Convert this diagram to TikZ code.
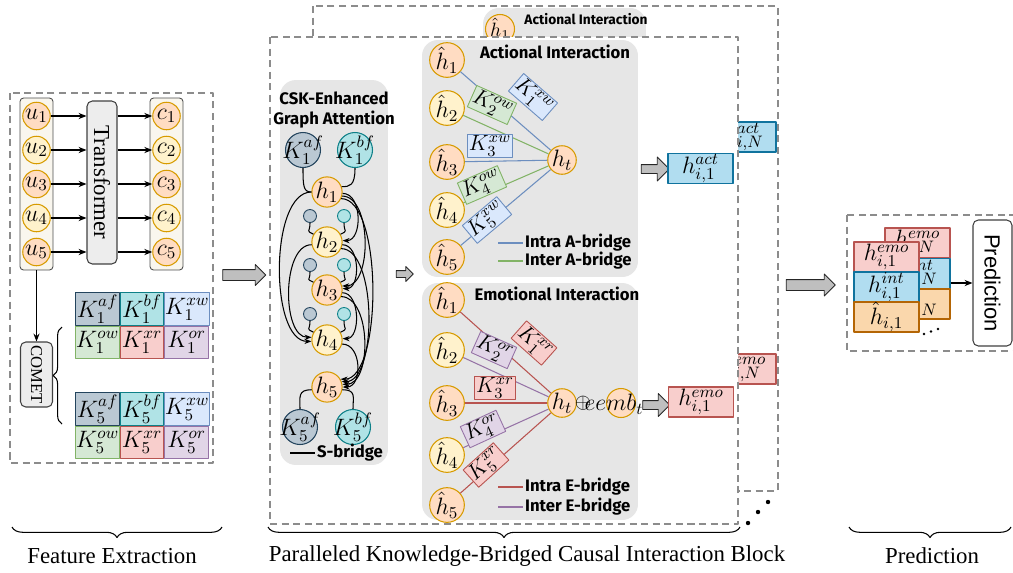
\RequirePackage{fix-cm}
\documentclass[tikz,border=0pt]{standalone}
\usepackage{fontspec}
\setmainfont{Liberation Serif}
\setsansfont{Liberation Sans}
\newfontfamily\handfont{Fira Sans}
\usetikzlibrary{arrows.meta, positioning, shapes.arrows, decorations.pathreplacing}

\definecolor{hpeach}{HTML}{FFDCC2}
\definecolor{hyellow}{HTML}{FFF2CC}
\definecolor{hborder}{HTML}{D79B00}
\definecolor{colfill}{HTML}{F9F6EE}
\definecolor{panelgray}{HTML}{E6E6E6}
\definecolor{afill}{HTML}{BAC8D3}
\definecolor{aline}{HTML}{23445D}
\definecolor{bfill}{HTML}{B0E3E6}
\definecolor{bline}{HTML}{0E8088}
\definecolor{wfill}{HTML}{DAE8FC}
\definecolor{wline}{HTML}{6C8EBF}
\definecolor{ofill}{HTML}{D5E8D4}
\definecolor{oline}{HTML}{82B366}
\definecolor{rfill}{HTML}{F8CECC}
\definecolor{rline}{HTML}{B85450}
\definecolor{pfill}{HTML}{E1D5E7}
\definecolor{pline}{HTML}{9673A6}
\definecolor{actfill}{HTML}{B1DDF0}
\definecolor{actline}{HTML}{10739E}
\definecolor{hatfill}{HTML}{FAD7AC}
\definecolor{hatline}{HTML}{B46504}

\tikzset{
  mathfont/.style={font=\fontsize{13.5}{15}\selectfont},
  hnode/.style={circle, draw=hborder, line width=0.6pt, inner sep=0pt, minimum size=0.55cm, mathfont},
  hpk/.style={hnode, fill=hpeach},
  hyl/.style={hnode, fill=hyellow},
  colbox/.style={draw=black!70, fill=colfill, rounded corners=2pt, line width=0.5pt},
  tfbox/.style={draw=black!75, fill=black!7, rounded corners=3pt, line width=0.6pt, inner sep=0pt},
  dashbox/.style={draw=black!45, dash pattern=on 4pt off 2.6pt, line width=0.8pt},
  flow/.style={-{Stealth[length=4.5pt, width=3.5pt]}, line width=0.6pt},
  kcell/.style={draw, line width=0.5pt, minimum width=0.874cm, minimum height=0.65cm, inner sep=0pt, mathfont},
  kaf/.style={fill=afill, draw=aline},
  kbf/.style={fill=bfill, draw=bline},
  kxw/.style={fill=wfill, draw=wline},
  kow/.style={fill=ofill, draw=oline},
  kxr/.style={fill=rfill, draw=rline},
  kor/.style={fill=pfill, draw=pline},
  kcirc/.style={circle, line width=0.6pt, inner sep=0pt, minimum size=0.7cm, mathfont},
  dotaf/.style={circle, fill=afill, draw=aline, line width=0.5pt, inner sep=0pt, minimum size=0.26cm},
  dotbf/.style={circle, fill=bfill, draw=bline, line width=0.5pt, inner sep=0pt, minimum size=0.26cm},
  panel/.style={fill=panelgray, rounded corners=9pt, inner sep=0pt},
  garrow/.style={single arrow, draw=black!85, fill=black!25, line width=0.5pt, inner xsep=0pt},
  paneltitle/.style={font=\fontsize{9.5}{11}\selectfont\handfont\bfseries},
  klab/.style={draw, inner sep=0.8pt, line width=0.5pt, font=\fontsize{12.5}{14}\selectfont},
  garc/.style={-{Stealth[length=4pt, width=3pt]}, line width=0.6pt},
  sline/.style={line width=0.6pt},
  intraA/.style={wline, line width=0.6pt},
  interA/.style={oline, line width=0.6pt},
  intraE/.style={rline, line width=0.6pt},
  interE/.style={pline, line width=0.6pt},
  hbox/.style={draw, line width=0.6pt, minimum width=1.3cm, minimum height=0.6cm, inner sep=0pt, mathfont},
  actb/.style={hbox, fill=actfill, draw=actline},
  emob/.style={hbox, fill=rfill, draw=rline},
  hatb/.style={hbox, fill=hatfill, draw=hatline},
  capbrace/.style={decorate, decoration={brace, mirror, amplitude=6pt}, line width=0.6pt},
  blockcap/.style={font=\fontsize{13}{15}\selectfont},
}

\begin{document}
\begin{tikzpicture}[x=0.02cm, y=-0.02cm, line join=round]
\useasboundingbox (0,0) rectangle (1013,572);

% feature extraction
\draw[dashbox] (10,93) rectangle (213,463);
\node[colbox, minimum width=0.66cm, minimum height=3.44cm] (ucol) at (36.5,184) {};
\node[colbox, minimum width=0.66cm, minimum height=3.44cm] (ccol) at (166.5,184) {};
\node[tfbox, minimum width=0.6cm, minimum height=3.26cm, font=\fontsize{13}{15}\selectfont] (tf) at (102,182.5) {\rotatebox{-90}{Transformer}};
\node[hpk] (u1) at (36.5,116) {$u_1$};
\node[hyl] (u2) at (36.5,150) {$u_2$};
\node[hpk] (u3) at (36.5,184) {$u_3$};
\node[hyl] (u4) at (36.5,218) {$u_4$};
\node[hpk] (u5) at (36.5,252) {$u_5$};
\node[hpk] (c1) at (166.5,116) {$c_1$};
\node[hyl] (c2) at (166.5,150) {$c_2$};
\node[hpk] (c3) at (166.5,184) {$c_3$};
\node[hyl] (c4) at (166.5,218) {$c_4$};
\node[hpk] (c5) at (166.5,252) {$c_5$};
\draw[flow] (u1) -- (u1 -| tf.west);
\draw[flow] (u2) -- (u2 -| tf.west);
\draw[flow] (u3) -- (u3 -| tf.west);
\draw[flow] (u4) -- (u4 -| tf.west);
\draw[flow] (u5) -- (u5 -| tf.west);
\draw[flow] (tf.east |- c1) -- (c1);
\draw[flow] (tf.east |- c2) -- (c2);
\draw[flow] (tf.east |- c3) -- (c3);
\draw[flow] (tf.east |- c4) -- (c4);
\draw[flow] (tf.east |- c5) -- (c5);

\node[tfbox, minimum width=0.64cm, minimum height=1.3cm, font=\fontsize{9.5}{11}\selectfont] (comet) at (36.5,374.5) {\rotatebox{-90}{COMET}};
\draw[flow] (ucol) -- (comet);
\draw[decorate, decoration={brace, amplitude=5pt}, line width=0.6pt] (62,424) -- (62,327);

% knowledge of u1 and u5
\node[kcell, kaf] (ka1) at (97.5,309) {$K_1^{af}$};
\node[kcell, kbf, right=0pt of ka1] (kb1) {$K_1^{bf}$};
\node[kcell, kxw, right=0pt of kb1] (kw1) {$K_1^{xw}$};
\node[kcell, kow, below=0pt of ka1] (ko1) {$K_1^{ow}$};
\node[kcell, kxr, right=0pt of ko1] (kr1) {$K_1^{xr}$};
\node[kcell, kor, right=0pt of kr1] (kp1) {$K_1^{or}$};
\node[kcell, kaf] (ka5) at (97.5,409) {$K_5^{af}$};
\node[kcell, kbf, right=0pt of ka5] (kb5) {$K_5^{bf}$};
\node[kcell, kxw, right=0pt of kb5] (kw5) {$K_5^{xw}$};
\node[kcell, kow, below=0pt of ka5] (ko5) {$K_5^{ow}$};
\node[kcell, kxr, right=0pt of ko5] (kr5) {$K_5^{xr}$};
\node[kcell, kor, right=0pt of kr5] (kp5) {$K_5^{or}$};

\node[garrow, minimum height=0.86cm, inner ysep=0.1cm, single arrow head extend=0.1cm] (ga1) at (241.5,275) {};

% back copy of the interaction block
\draw[dashbox] (313,6) rectangle (778,491);
\node[panel, minimum width=3.26cm, minimum height=1.6cm] (bpanel) at (564.5,48) {};
\node[hpk, minimum size=0.44cm, font=\fontsize{11}{13}\selectfont] (bh1) at (500,29) {$\hat{h}_1$};
\node[font=\fontsize{7.8}{9}\selectfont\handfont\bfseries] (btitle) at (586,19) {Actional Interaction};
\coordinate (bht) at (560,80);
\draw[intraA] (bh1) -- (bht);
\node[actb] (hactN) at (743.5,137) {$h^{act}_{i,N}$};
\node[emob] (hemoN) at (743.5,369) {$h^{emo}_{i,N}$};

% front block
\draw[dashbox, fill=white] (270,37) rectangle (738,524);

% CSK graph attention
\node[panel, minimum width=2.16cm, minimum height=7.7cm] (cskp) at (334,272.5) {};
\node[paneltitle, align=center] (csktitle) at (334,110) {CSK-Enhanced\\Graph Attention};
\node[kcirc, fill=afill, draw=aline] (kaf1) at (303,150) {\makebox[0pt]{$K_1^{af}$}};
\node[kcirc, fill=bfill, draw=bline] (kbf1) at (355,150) {\makebox[0pt]{$K_1^{bf}$}};
\node[hpk] (h1) at (327,192) {$h_1$};
\node[hyl] (h2) at (327,242) {$h_2$};
\node[hpk] (h3) at (327,290) {$h_3$};
\node[hyl] (h4) at (327,340) {$h_4$};
\node[hpk] (h5) at (327,387) {$h_5$};
\node[dotaf] (sa2) at (310,216) {};
\node[dotbf] (sb2) at (344,216) {};
\node[dotaf] (sa3) at (310,265) {};
\node[dotbf] (sb3) at (344,265) {};
\node[dotaf] (sa4) at (310,314) {};
\node[dotbf] (sb4) at (344,314) {};
\node[kcirc, fill=afill, draw=aline] (kaf5) at (300,427) {\makebox[0pt]{$K_5^{af}$}};
\node[kcirc, fill=bfill, draw=bline] (kbf5) at (353,427) {\makebox[0pt]{$K_5^{bf}$}};

\draw[sline] (kaf1.south) .. controls +(0,18) and +(-8,0) .. (h1.west);
\draw[sline] (kbf1.south) .. controls +(0,18) and +(8,0) .. (h1.20);
\draw[sline] (sa2.south) .. controls +(0,10) and +(-8,-4) .. (h2.150);
\draw[sline] (sb2.south) .. controls +(0,10) and +(8,-4) .. (h2.30);
\draw[sline] (sa3.south) .. controls +(0,10) and +(-8,-4) .. (h3.150);
\draw[sline] (sb3.south) .. controls +(0,10) and +(8,-4) .. (h3.30);
\draw[sline] (sa4.south) .. controls +(0,10) and +(-8,-4) .. (h4.150);
\draw[sline] (sb4.south) .. controls +(0,10) and +(8,-4) .. (h4.30);
\draw[sline] (h5.190) .. controls +(-14,0) and +(0,-12) .. (kaf5.north);
\draw[sline] (h5.-10) .. controls +(14,0) and +(0,-12) .. (kbf5.north);

\draw[garc] (h1.-5) .. controls +(20,0) and +(20,0) .. (h2.5);
\draw[garc] (h1.-15) .. controls +(30,0) and +(30,0) .. (h3.15);
\draw[garc] (h2.-10) .. controls +(18,0) and +(18,0) .. (h3.5);
\draw[garc] (h3.-10) .. controls +(18,0) and +(18,0) .. (h4.5);
\draw[garc] (h1.-25) .. controls +(42,0) and +(42,0) .. (h5.30);
\draw[garc] (h2.-25) .. controls +(36,0) and +(36,0) .. (h5.20);
\draw[garc] (h3.-25) .. controls +(30,0) and +(30,0) .. (h5.10);
\draw[garc] (h4.-15) .. controls +(20,0) and +(20,0) .. (h5.0);
\draw[garc] (h1.west) .. controls +(-42,0) and +(-42,0) .. (h4.185);
\draw[garc] (h2.190) .. controls +(-30,0) and +(-30,0) .. (h4.170);

\coordinate (sleg0) at (290,453);
\node[paneltitle, anchor=west, inner sep=1pt] (sleg) at (315,453) {S-bridge};
\draw[sline] (sleg0) -- (sleg);

\node[garrow, minimum height=0.34cm, inner ysep=0.06cm, single arrow head extend=0.08cm] (ga2) at (403,274) {};

% actional interaction
\node[panel, minimum width=4.32cm, minimum height=4.74cm] (actp) at (530,158.5) {};
\node[paneltitle] (acttitle) at (555,52) {Actional Interaction};
\node[hpk, minimum size=0.56cm] (ah1) at (447,60) {$\hat{h}_1$};
\node[hyl, minimum size=0.56cm] (ah2) at (447,108) {$\hat{h}_2$};
\node[hpk, minimum size=0.56cm] (ah3) at (447,162) {$\hat{h}_3$};
\node[hyl, minimum size=0.56cm] (ah4) at (447,210) {$\hat{h}_4$};
\node[hpk, minimum size=0.56cm] (ah5) at (447,257) {$\hat{h}_5$};
\node[hpk, minimum size=0.56cm] (ahtA) at (562,160) {$h_t$};
\draw[intraA] (ah1) -- (ahtA);
\draw[interA] (ah2) -- (ahtA);
\draw[intraA] (ah3) -- (ahtA);
\draw[interA] (ah4) -- (ahtA);
\draw[intraA] (ah5) -- (ahtA);
\node[klab, kxw, rotate=-41] (kwa1) at (533,97) {$K_1^{xw}$};
\node[klab, kow, rotate=-24] (koa2) at (492,105) {$K_2^{ow}$};
\node[klab, kxw] (kwa3) at (490,146) {$K_3^{xw}$};
\node[klab, kow, rotate=23.5] (koa4) at (482,185) {$K_4^{ow}$};
\node[klab, kxw, rotate=40] (kwa5) at (487,220) {$K_5^{xw}$};
\coordinate (lia0) at (498,243);
\node[paneltitle, anchor=west, inner sep=1pt] (lia) at (523,243) {Intra A-bridge};
\draw[intraA] (lia0) -- (lia);
\coordinate (lea0) at (498,261);
\node[paneltitle, anchor=west, inner sep=1pt] (lea) at (523,261) {Inter A-bridge};
\draw[interA] (lea0) -- (lea);

% emotional interaction
\node[panel, minimum width=4.32cm, minimum height=4.74cm] (emop) at (530,401.5) {};
\node[paneltitle] (emotitle) at (557,294) {Emotional Interaction};
\node[hpk, minimum size=0.56cm] (eh1) at (447,300) {$\hat{h}_1$};
\node[hyl, minimum size=0.56cm] (eh2) at (447,350) {$\hat{h}_2$};
\node[hpk, minimum size=0.56cm] (eh3) at (447,403) {$\hat{h}_3$};
\node[hyl, minimum size=0.56cm] (eh4) at (447,455) {$\hat{h}_4$};
\node[hpk, minimum size=0.56cm] (eh5) at (447,505) {$\hat{h}_5$};
\node[hpk, minimum size=0.56cm] (ehtE) at (562,403) {$h_t$};
\draw[intraE] (eh1) -- (ehtE);
\draw[interE] (eh2) -- (ehtE);
\draw[intraE] (eh3) -- (ehtE);
\draw[interE] (eh4) -- (ehtE);
\draw[intraE] (eh5) -- (ehtE);
\node[klab, kxr, rotate=-41.6] (kre1) at (534,343) {$K_1^{xr}$};
\node[klab, kor, rotate=-24] (kpe2) at (494,350) {$K_2^{or}$};
\node[klab, kxr] (kre3) at (495,388) {$K_3^{xr}$};
\node[klab, kor, rotate=24.7] (kpe4) at (483,429) {$K_4^{or}$};
\node[klab, kxr, rotate=42] (kre5) at (486,465) {$K_5^{xr}$};
\coordinate (lie0) at (498,487);
\node[paneltitle, anchor=west, inner sep=1pt] (lie) at (523,487) {Intra E-bridge};
\draw[intraE] (lie0) -- (lie);
\coordinate (lee0) at (498,507);
\node[paneltitle, anchor=west, inner sep=1pt] (lee) at (523,507) {Inter E-bridge};
\draw[interE] (lee0) -- (lee);
\node[font=\fontsize{12}{14}\selectfont, inner sep=0pt] (oplus) at (583,403) {$\oplus$};
\node[hpk, minimum size=0.58cm] (embc) at (621,403) {};
\node[mathfont, inner sep=0pt] (embt) at (614,404) {$eemb_t$};

% outputs of the first block
\node[garrow, minimum height=0.56cm, inner ysep=0.08cm, single arrow head extend=0.15cm] (ga3) at (653,169) {};
\node[actb] (hact1) at (700.5,168.5) {$h^{act}_{i,1}$};
\node[garrow, minimum height=0.54cm, inner ysep=0.08cm, single arrow head extend=0.14cm] (ga4) at (654,405) {};
\node[emob] (hemo1) at (701,402) {$h^{emo}_{i,1}$};
\fill (748,523) circle (2.2);
\fill (758,512) circle (2.2);
\fill (768,502) circle (2.2);

\node[garrow, minimum height=0.98cm, inner ysep=0.1cm, single arrow head extend=0.11cm] (ga5) at (808,285) {};

% prediction
\draw[dashbox] (847,215) rectangle (1016,351);
\node[emob] (hemoNp) at (917.5,243) {$h^{emo}_{i,N}$};
\node[actb] (hintNp) at (917.5,273.5) {$h^{int}_{i,N}$};
\node[hatb] (hhatNp) at (917.5,304) {$\hat{h}_{i,N}$};
\node[emob] (hemo1p) at (886.5,257) {$h^{emo}_{i,1}$};
\node[actb] (hint1p) at (886.5,287) {$h^{int}_{i,1}$};
\node[hatb] (hhat1p) at (886.5,317) {$\hat{h}_{i,1}$};
\fill (924,334) circle (1.3);
\fill (931,331.5) circle (1.3);
\fill (938,329) circle (1.3);
\node[tfbox, fill=white, minimum width=0.78cm, minimum height=2.52cm, font=\sffamily\fontsize{12.5}{14}\selectfont] (pred) at (992.5,283) {\rotatebox{-90}{Prediction}};
\draw[flow] (hintNp.east |- pred.west) -- (pred.west);

% block captions
\draw[capbrace] (12,527) -- (222,527);
\node[blockcap] (capfe) at (112,556) {Feature Extraction};
\draw[capbrace] (268,527) -- (740,527);
\node[blockcap] (capib) at (527,556) {Paralleled Knowledge-Bridged Causal Interaction Block};
\draw[capbrace] (849,527) -- (1011,527);
\node[blockcap] (cappr) at (932,556) {Prediction};
\end{tikzpicture}
\end{document}
